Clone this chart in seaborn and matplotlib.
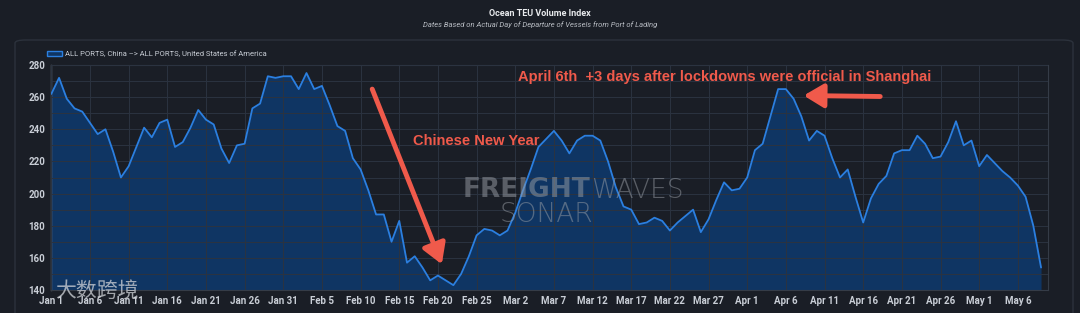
import numpy as np
import pandas as pd
import matplotlib
matplotlib.use("Agg")
import matplotlib.pyplot as plt
import matplotlib.dates as mdates
from matplotlib.patches import Patch, FancyBboxPatch
import seaborn as sns

# ---------------- data ----------------
start_date = "2022-01-01"
teu_index = [
    262, 272, 259, 253, 251, 244, 237, 240, 226, 210,
    217, 229, 241, 235, 244, 246, 229, 232, 241, 252,
    246, 243, 228, 219, 230, 231, 253, 256, 273, 272,
    273, 273, 265, 275, 265, 267, 255, 242, 239, 222,
    215, 202, 187, 187, 170, 183, 157, 161, 154, 146,
    149, 146, 143, 150, 161, 174, 178, 177, 174, 177,
    188, 202, 215, 229, 234, 239, 233, 225, 233, 236,
    236, 233, 220, 204, 192, 190, 181, 182, 185, 183,
    177, 182, 186, 190, 176, 184, 196, 207, 202, 203,
    210, 227, 231, 248, 265, 265, 259, 248, 233, 239,
    236, 222, 210, 215, 198, 182, 197, 206, 211, 225,
    227, 227, 236, 231, 222, 223, 232, 245, 230, 233,
    217, 224, 219, 214, 210, 205, 198, 180, 154,
]
series_label = "ALL PORTS, China \u2013> ALL PORTS, United States of America"
title_text = "Ocean TEU Volume Index"
subtitle_text = "Dates Based on Actual Day of Departure of Vessels from Port of Lading"
y_ticks = [140, 160, 180, 200, 220, 240, 260, 280]
tick_every_days = 5
cny_text = "Chinese New Year"
lockdown_text = "April 6th  +3 days after lockdowns were official in Shanghai"

# ---------------- styling ----------------
BG = "#1a1e26"
FILL = "#0f3563"
LINE = "#2b7fe0"
GRID = "#2b3340"
TXT = "#c9ced6"
RED = "#f05a4b"

sns.set_theme(style="dark")
plt.rcParams["font.family"] = ["Roboto", "DejaVu Sans"]

W, H = 1080, 313
fig = plt.figure(figsize=(W / 100, H / 100), dpi=100, facecolor=BG)

# outer panel
panel = FancyBboxPatch((15 / W, -0.05), 1058 / W, (H - 40) / H + 0.05,
                       boxstyle="round,pad=0,rounding_size=0.01",
                       transform=fig.transFigure, facecolor=BG,
                       edgecolor="#2c323c", lw=1.0, zorder=-5)
fig.patches.append(panel)

ax = fig.add_axes([51 / W, 1 - 290 / H, 997 / W, 225 / H])
ax.set_zorder(1)
ax.set_facecolor(BG)

df = pd.DataFrame({
    "date": pd.date_range(start_date, periods=len(teu_index), freq="D"),
    "teu": teu_index,
})
d0 = df["date"].iloc[0]

ax.fill_between(df["date"], df["teu"], y_ticks[0], color=FILL, lw=0, zorder=2)
sns.lineplot(data=df, x="date", y="teu", ax=ax, color=LINE, lw=1.3, zorder=3,
             legend=False)

ax.set_ylim(y_ticks[0], y_ticks[-1])
ax.set_xlim(d0 - pd.Timedelta(hours=1), d0 + pd.Timedelta(days=128.9))

xt = df["date"].iloc[::tick_every_days]
ax.set_xticks(xt)
ax.set_xticklabels([f"{d:%b} {d.day}" for d in xt])
ax.set_yticks(y_ticks)
ax.set_yticks(np.arange(y_ticks[0], y_ticks[-1] + 1, 10), minor=True)
ax.grid(True, which="both", axis="y", color=GRID, lw=0.7)
ax.grid(True, which="major", axis="x", color=GRID, lw=0.7)
ax.set_axisbelow(False)
for gl in ax.get_xgridlines() + ax.get_ygridlines() + ax.yaxis.get_minorticklines():
    gl.set_zorder(2.5)
ax.tick_params(axis="both", which="both", length=0, colors=TXT, labelsize=7, pad=4)
for lab in ax.get_xticklabels() + ax.get_yticklabels():
    lab.set_fontweight("bold")
ax.set_xlabel("")
ax.set_ylabel("")
for s in ["top", "right", "bottom"]:
    ax.spines[s].set_color("#353c47")
    ax.spines[s].set_linewidth(0.8)
ax.spines["left"].set_color("#6b7079")
ax.spines["left"].set_linewidth(1.0)

# titles
fig.text(0.5, 1 - 14 / H, title_text, ha="center", va="center", fontsize=6.5,
         fontweight="bold", color="#e8eaed")
fig.text(0.5, 1 - 25 / H, subtitle_text, ha="center", va="center", fontsize=5.5,
         style="italic", color="#b8bcc3")

# legend
fig.legend(handles=[Patch(facecolor=FILL, edgecolor=LINE, lw=1.0)],
           labels=[series_label], loc="center left",
           bbox_to_anchor=(47 / W, 1 - 54 / H), frameon=False, fontsize=5.5,
           labelcolor=TXT, handlelength=2.0, handleheight=0.6, handletextpad=0.4,
           borderaxespad=0, borderpad=0)

# watermarks
WM = dict(color="#9a9fa6", alpha=0.5, zorder=10, family=["DejaVu Sans"])
fig.text(590 / W, 1 - 190 / H, "FREIGHT", ha="right", va="center", fontsize=19,
         fontweight="bold", **WM)
fig.text(591 / W, 1 - 190 / H, "WAVES", ha="left", va="center", fontsize=19,
         fontweight=200, **WM)
fig.text(546 / W, 1 - 215 / H, "SONAR", ha="center", va="center", fontsize=19,
         fontweight=200, **WM)
fig.text(55 / W, 1 - 292 / H, "大数跨境", ha="left", va="center", fontsize=15,
         family=["Noto Sans CJK SC", "DejaVu Sans"], color="#d0d3d8", alpha=0.75,
         zorder=10)

# annotations
def day(x):
    return mdates.date2num(d0 + pd.Timedelta(days=x))

ax.annotate("", xy=(day(50.5), 156), xytext=(day(41.5), 265),
            arrowprops=dict(arrowstyle="-|>,head_width=0.6,head_length=1.0",
                            lw=3.5, color=RED, shrinkA=0, shrinkB=0,
                            capstyle="round"), zorder=6)
ax.annotate("", xy=(day(97.3), 261), xytext=(day(107.2), 260.4),
            arrowprops=dict(arrowstyle="-|>,head_width=0.6,head_length=1.0",
                            lw=3.5, color=RED, shrinkA=0, shrinkB=0),
            zorder=6)
ax.text(day(46.8), 233, cny_text, ha="left", va="center", fontsize=10.5,
        fontweight="bold", color=RED, family=["Liberation Sans", "DejaVu Sans"],
        zorder=6)
ax.text(day(60.3), 272.7, lockdown_text, ha="left", va="center", fontsize=10.5,
        fontweight="bold", color=RED, family=["Liberation Sans", "DejaVu Sans"],
        zorder=6)

fig.savefig("out.png", dpi=100, facecolor=BG)
